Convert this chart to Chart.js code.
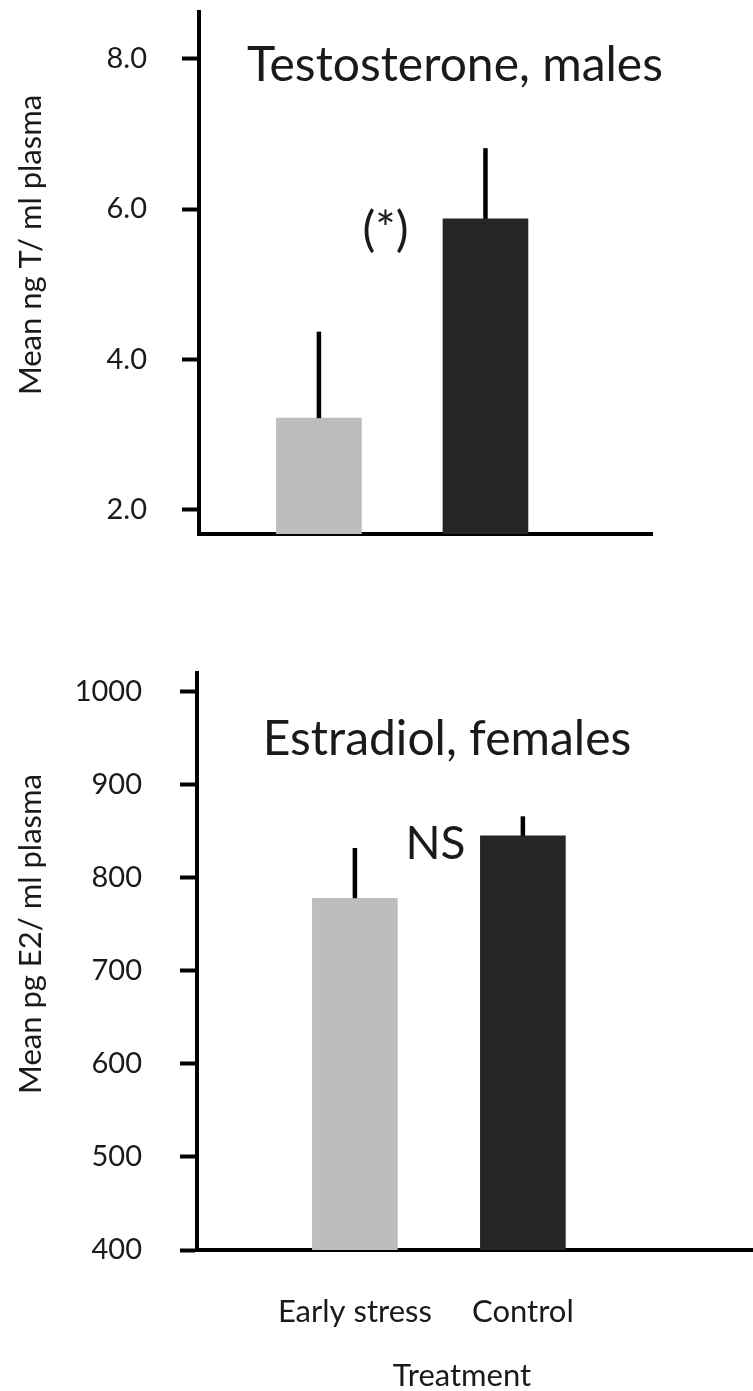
<!DOCTYPE html>
<html>
<head>
<meta charset="utf-8">
<script src="https://cdn.jsdelivr.net/npm/chart.js@4.4.1/dist/chart.umd.min.js"></script>
<style>
  html, body { margin: 0; padding: 0; background: #fff; }
  body { width: 753px; height: 1391px; position: relative; overflow: hidden; }
  canvas { position: absolute; left: 0; }
  #c1 { top: 0; }
  #c2 { top: 600px; }
</style>
</head>
<body>
<canvas id="c1" width="753" height="560"></canvas>
<canvas id="c2" width="753" height="791"></canvas>
<script>
// data
const categories = ['Early stress', 'Control'];
const barColors = ['#bdbdbd', '#262626'];
const barPos = [1, 2];

const tMeans = [3.22, 5.87];
const tErrors = [1.15, 0.94];
const tTicks = [2, 4, 6, 8];

const eMeans = [778, 845];
const eErrors = [54, 21];
const eTicks = [400, 500, 600, 700, 800, 900, 1000];

const FONT = 'Lato, "Open Sans", sans-serif';
const INK = '#1a1a1a';

// error bars (upper whisker only) and free text
const extras = {
    id: 'extras',
    afterDatasetsDraw(chart, args, opts) {
        const ctx = chart.ctx;
        const xs = chart.scales.x, ys = chart.scales.y;
        ctx.save();
        ctx.strokeStyle = '#000';
        ctx.lineWidth = 4.5;
        opts.means.forEach((m, i) => {
            const px = xs.getPixelForValue(barPos[i]);
            ctx.beginPath();
            ctx.moveTo(px, ys.getPixelForValue(m));
            ctx.lineTo(px, ys.getPixelForValue(m + opts.errors[i]));
            ctx.stroke();
        });
        ctx.fillStyle = INK;
        ctx.textAlign = 'center';
        ctx.textBaseline = 'middle';
        opts.notes.forEach(n => {
            const px = n.px !== undefined ? n.px : xs.getPixelForValue(n.x);
            const py = n.py !== undefined ? n.py : ys.getPixelForValue(n.y);
            ctx.font = n.size + 'px ' + FONT;
            ctx.save();
            ctx.translate(px, py);
            if (n.rotate) ctx.rotate(-Math.PI / 2);
            ctx.fillText(n.text, 0, 0);
            ctx.restore();
        });
        ctx.restore();
    }
};

function makeChart(id, o) {
    return new Chart(document.getElementById(id), {
        type: 'bar',
        data: {
            datasets: [{
                data: o.means.map((m, i) => ({ x: barPos[i], y: m })),
                backgroundColor: barColors,
                borderWidth: 0,
                barThickness: 85
            }]
        },
        plugins: [extras],
        options: {
            responsive: false,
            animation: false,
            devicePixelRatio: 1,
            layout: { padding: o.padding },
            plugins: {
                legend: { display: false },
                tooltip: { enabled: false },
                extras: { means: o.means, errors: o.errors, notes: o.notes }
            },
            scales: {
                x: {
                    type: 'linear',
                    min: o.xMin,
                    max: o.xMax,
                    offset: false,
                    grid: { display: false },
                    border: { display: true, color: '#000', width: 4 },
                    afterBuildTicks: s => { s.ticks = barPos.map(v => ({ value: v })); },
                    afterFit: s => { s.height = o.xHeight; s.paddingLeft = 0; s.paddingRight = 0; },
                    ticks: {
                        display: o.showCats,
                        autoSkip: false,
                        maxRotation: 0,
                        padding: 35,
                        color: INK,
                        font: { family: FONT, size: 31 },
                        callback: (v, i) => categories[i]
                    }
                },
                y: {
                    min: o.yMin,
                    max: o.yMax,
                    grid: {
                        display: true,
                        drawOnChartArea: false,
                        drawTicks: true,
                        tickLength: 17,
                        tickWidth: 4,
                        tickColor: '#000'
                    },
                    border: { display: true, color: '#000', width: 4 },
                    afterBuildTicks: s => { s.ticks = o.ticks.map(v => ({ value: v })); },
                    // keep the plot box where the figure has it
                    afterFit: s => { s.width = o.yWidth; s.paddingTop = 0; s.paddingBottom = 0; },
                    ticks: {
                        padding: o.tickPad,
                        color: INK,
                        font: { family: FONT, size: 29 },
                        callback: o.fmt
                    }
                }
            }
        }
    });
}

makeChart('c1', {
    means: tMeans, errors: tErrors, ticks: tTicks,
    yMin: 1.68, yMax: 8.62, xMin: 0.28, xMax: 3.0,
    padding: { top: 12, right: 101, bottom: 0, left: 0 },
    xHeight: 26, yWidth: 199, tickPad: 35, showCats: false,
    fmt: v => v.toFixed(1),
    notes: [
        { text: 'Testosterone, males', px: 455, py: 66, size: 48 },
        { text: '(*)', x: 1.40, y: 5.72, size: 48 },
        { text: 'Mean ng T/ ml plasma', px: 31, py: 245, size: 31, rotate: true }
    ]
});

makeChart('c2', {
    means: eMeans, errors: eErrors, ticks: eTicks,
    yMin: 400, yMax: 1020, xMin: 0.06, xMax: 3.37,
    padding: { top: 73, right: 0, bottom: 0, left: 0 },
    xHeight: 141, yWidth: 197, tickPad: 38, showCats: true,
    fmt: v => String(v),
    notes: [
        { text: 'Estradiol, females', px: 447, py: 140, size: 48 },
        { text: 'NS', x: 1.48, y: 836, size: 46 },
        { text: 'Mean pg E2/ ml plasma', px: 31, py: 334, size: 31, rotate: true },
        { text: 'Treatment', px: 462, py: 776, size: 31 }
    ]
});
</script>
</body>
</html>
